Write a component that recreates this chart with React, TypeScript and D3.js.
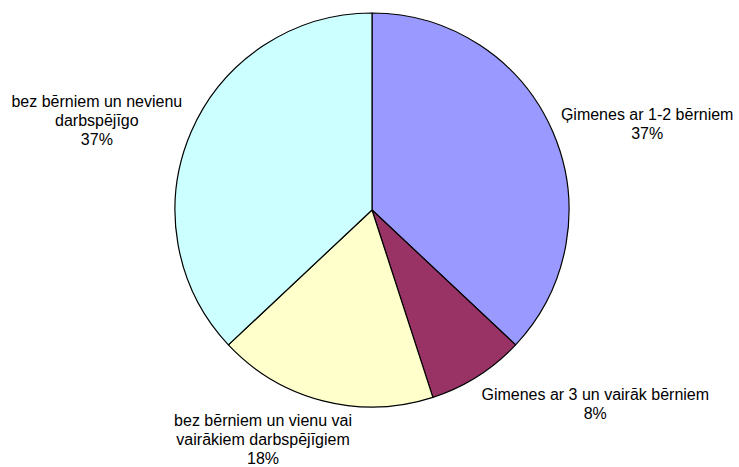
import React, { useEffect, useRef } from 'react';
import * as d3 from 'd3';

// slice labels (each string is a line), values in %, fills
const labels: string[][] = [
  ['Ģimenes ar 1-2 bērniem'],
  ['Gimenes ar 3 un vairāk bērniem'],
  ['bez bērniem un vienu vai', 'vairākiem darbspējīgiem'],
  ['bez bērniem un nevienu', 'darbspējīgo'],
];
const values: number[] = [37, 8, 18, 37];
const colors: string[] = ['#9999FF', '#993366', '#FFFFCC', '#CCFFFF'];

const W = 739;
const H = 467;

const App = () => {
  const svgRef = useRef<SVGSVGElement>(null);

  useEffect(() => {
    const svg = d3.select(svgRef.current);
    svg.selectAll('*').remove();

    const cx = 372;
    const cy = 210;
    const r = 197;
    // label placement: point on an outer arc, then shifted the way excel put them
    const labelNudge = [[76, 0], [107, 11], [-55, 19], [-76, -3]];
    const lineH = 19;

    const pie = d3.pie<number>().sort(null).value(d => d);
    const arcs = pie(values);
    const arc = d3.arc<d3.PieArcDatum<number>>().innerRadius(0).outerRadius(r);
    const labelArc = d3.arc<d3.PieArcDatum<number>>().innerRadius(r + 20).outerRadius(r + 20);

    const g = svg.append('g').attr('transform', `translate(${cx},${cy})`);

    g.selectAll('path.slice')
      .data(arcs)
      .enter()
      .append('path')
      .attr('class', 'slice')
      .attr('d', arc)
      .attr('fill', (d, i) => colors[i])
      .attr('stroke', '#000')
      .attr('stroke-width', 1.2)
      .attr('stroke-linejoin', 'round');

    arcs.forEach((a, i) => {
      const [px, py] = labelArc.centroid(a);
      const x = px + labelNudge[i][0];
      const y = py + labelNudge[i][1];
      const lines = [...labels[i], `${values[i]}%`];
      const top = y - ((lines.length - 1) * lineH) / 2;
      const t = g.append('text')
        .attr('text-anchor', 'middle')
        .attr('font-family', '"Liberation Sans", Arial, sans-serif')
        .attr('font-size', 16)
        .attr('fill', '#000');
      lines.forEach((ln, j) => {
        t.append('tspan')
          .attr('x', x)
          .attr('y', top + j * lineH)
          .attr('dy', '0.35em')
          .text(ln);
      });
    });
  }, []);

  return (
    <svg
      ref={svgRef}
      width={W}
      height={H}
      style={{ position: 'absolute', left: 0, top: 0, background: '#fff' }}
    />
  );
};

export default App;
